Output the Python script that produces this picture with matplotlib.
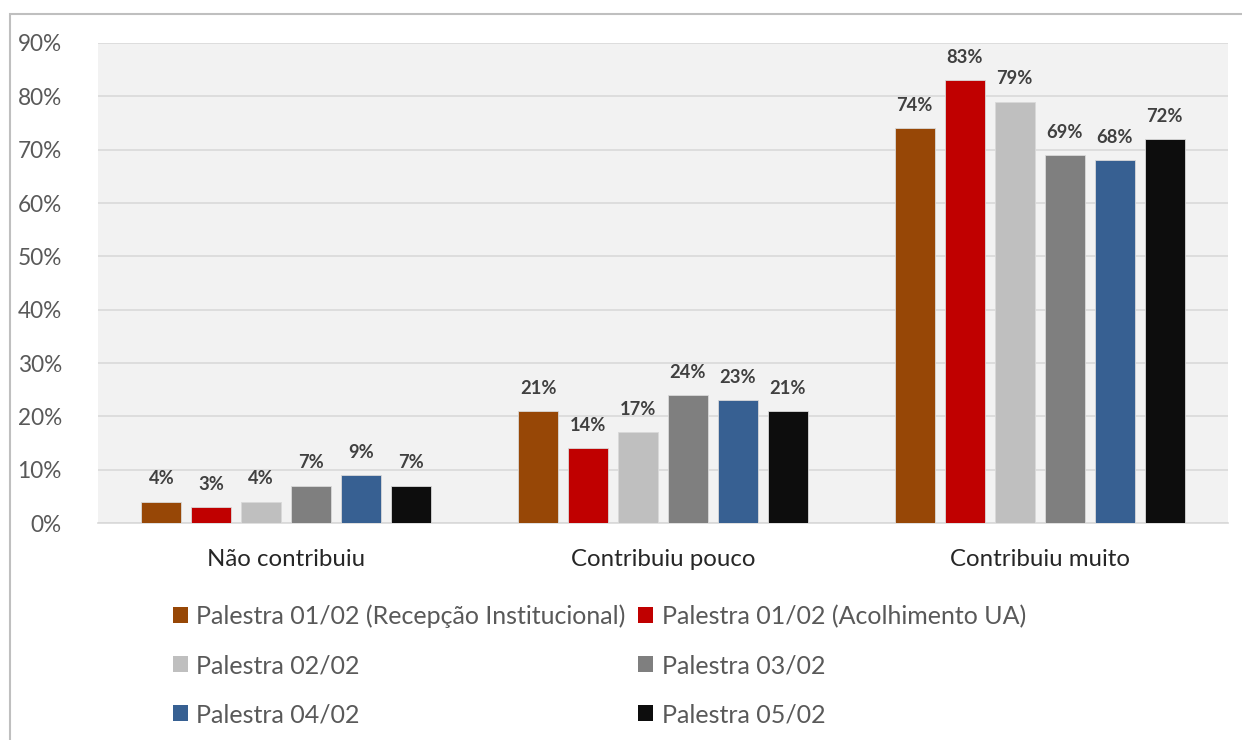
import numpy as np
import matplotlib.pyplot as plt
from matplotlib.patches import Patch, Rectangle

categories = ['Não contribuiu', 'Contribuiu pouco', 'Contribuiu muito']
series = ['Palestra 01/02 (Recepção Institucional)', 'Palestra 01/02 (Acolhimento UA)',
          'Palestra 02/02', 'Palestra 03/02', 'Palestra 04/02', 'Palestra 05/02']
values = [
    [4, 21, 74],
    [3, 14, 83],
    [4, 17, 79],
    [7, 24, 69],
    [9, 23, 68],
    [7, 21, 72],
]
colors = ['#974706', '#c00000', '#bfbfbf', '#7f7f7f', '#376092', '#0d0d0d']
yticks = [0, 10, 20, 30, 40, 50, 60, 70, 80, 90]

plt.rcParams['font.family'] = ['Lato', 'DejaVu Sans']

fig = plt.figure(figsize=(12.42, 7.40), dpi=100)
ax = fig.add_axes([0.0789, 0.2932, 0.9098, 0.6487])
ax.set_facecolor('#f2f2f2')

x = np.arange(len(categories))
step = 0.1327
width = 0.106
for i, (name, vals) in enumerate(zip(series, values)):
    pos = x + (i - 2.5) * step
    ax.bar(pos, vals, width, color=colors[i], edgecolor='#d9d9d9', linewidth=0.6, zorder=3)
    for p, v in zip(pos, vals):
        ax.text(p, v + 2.7, f'{v}%', ha='center', va='bottom', fontsize=13.2,
                fontweight='bold', color='#404040', zorder=4)

ax.set_xlim(-0.5, 2.5)
ax.set_ylim(0, 90)
ax.set_yticks(yticks)
ax.set_yticklabels([f'{t}%' for t in yticks], fontsize=16.3, color='#595959')
ax.set_xticks(x)
ax.set_xticklabels(categories, fontsize=17.3, color='#262626')
ax.tick_params(axis='both', length=0)
ax.tick_params(axis='y', pad=26)
ax.tick_params(axis='x', pad=19)
ax.grid(axis='y', color='#d9d9d9', linewidth=1.2, zorder=0)
for s in ['top', 'right', 'left']:
    ax.spines[s].set_visible(False)
ax.spines['bottom'].set_color('#d9d9d9')
ax.spines['bottom'].set_linewidth(1.2)

handles = [Patch(facecolor=c, edgecolor='none') for c in colors]
order = [0, 2, 4, 1, 3, 5]
fig.legend([handles[k] for k in order], [series[k] for k in order], ncol=2,
           loc='upper left', bbox_to_anchor=(0.129, 0.2), frameon=False,
           fontsize=18, labelcolor='#595959', handlelength=0.6, handleheight=0.6,
           handletextpad=0.35, columnspacing=0.5, labelspacing=1.04, borderpad=0)

fig.patches.append(Rectangle((10 / 1242, -0.1), 1.2, 1.1 - 14 / 740, transform=fig.transFigure,
                             fill=False, edgecolor='#bfbfbf', linewidth=1.5))

fig.savefig('out.png', dpi=100, facecolor='white')
